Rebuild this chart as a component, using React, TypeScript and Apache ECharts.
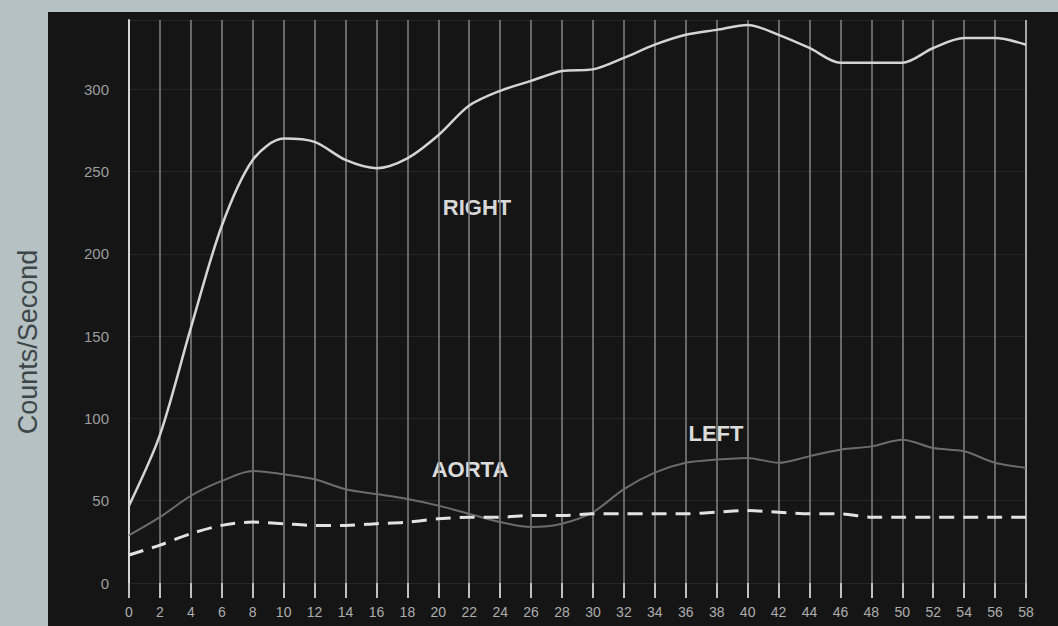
import React, { useEffect, useRef } from "react";
import * as echarts from "echarts";

const timeSeconds = [0, 2, 4, 6, 8, 10, 12, 14, 16, 18, 20, 22, 24, 26, 28, 30, 32, 34, 36, 38, 40, 42, 44, 46, 48, 50, 52, 54, 56, 58];
const rightKidney = [47, 90, 155, 217, 257, 270, 268, 257, 252, 258, 272, 290, 299, 305, 311, 312, 319, 327, 333, 336, 339, 333, 325, 316, 316, 316, 325, 331, 331, 327];
const leftKidney = [29, 40, 53, 62, 68, 66, 63, 57, 54, 51, 47, 42, 37, 34, 36, 43, 57, 67, 73, 75, 76, 73, 77, 81, 83, 87, 82, 80, 73, 70];
const aorta = [17, 23, 30, 35, 37, 36, 35, 35, 36, 37, 39, 40, 40, 41, 41, 42, 42, 42, 42, 43, 44, 43, 42, 42, 40, 40, 40, 40, 40, 40];
const yTicks = [0, 50, 100, 150, 200, 250, 300];

const FONT = '"Liberation Sans", Arial, sans-serif';

export default function App() {
  const ref = useRef<HTMLDivElement>(null);
  useEffect(() => {
    const chart = echarts.init(ref.current!, undefined, { renderer: "svg" });
    const pairs = (ys: number[]) => timeSeconds.map((x, i) => [x, ys[i]]);
    const gridColors = timeSeconds.map((_, i) => (i === 0 || i === timeSeconds.length - 1 ? "#d6d6d6" : "#858585"));
    chart.setOption({
      animation: false,
      backgroundColor: "transparent",
      grid: { left: 129, right: 32, top: 20, bottom: 43, containLabel: false, outerBoundsMode: "none" },
      xAxis: {
        type: "value",
        min: 0,
        max: 58,
        interval: 2,
        axisLine: { show: false },
        axisTick: { show: true, length: 15, lineStyle: { color: "#c0c0c0", width: 2 } },
        axisLabel: { color: "#adadad", fontSize: 14, fontFamily: FONT, margin: 22 },
        splitLine: { show: true, lineStyle: { color: gridColors, width: 1.5 } },
      },
      yAxis: {
        type: "value",
        min: 0,
        max: 342,
        interval: 50,
        axisLine: { show: true, lineStyle: { color: "#d6d6d6", width: 2 } },
        axisTick: { show: false },
        axisLabel: {
          color: "#9d9d9d",
          fontSize: 15,
          fontFamily: FONT,
          margin: 20,
          formatter: (v: number) => (yTicks.includes(v) ? String(v) : ""),
        },
        splitLine: { show: true, lineStyle: { color: "#262626", width: 1 } },
      },
      series: [
        {
          name: "Right",
          type: "line",
          data: pairs(rightKidney),
          smooth: 0.3,
          symbol: "none",
          lineStyle: { color: "#d4d4d4", width: 2.5 },
          z: 5,
        },
        {
          name: "Left",
          type: "line",
          data: pairs(leftKidney),
          smooth: 0.3,
          symbol: "none",
          lineStyle: { color: "#6c6c6c", width: 2 },
          z: 4,
        },
        {
          name: "Aorta",
          type: "line",
          data: pairs(aorta),
          smooth: 0.3,
          symbol: "none",
          lineStyle: { color: "#e2e2e2", width: 3, type: [15, 9] },
          z: 6,
        },
      ],
      graphic: [
        { type: "text", x: 28, y: 342, rotation: Math.PI / 2, style: { text: "Counts/Second", fill: "#3d4749", font: `27px ${FONT}`, textAlign: "center", textVerticalAlign: "middle" } },
        { type: "text", x: 477, y: 207, style: { text: "RIGHT", fill: "#d8d8d8", font: `bold 22px ${FONT}`, textAlign: "center", textVerticalAlign: "middle" } },
        { type: "text", x: 470, y: 469, style: { text: "AORTA", fill: "#dcdcdc", font: `bold 22px ${FONT}`, textAlign: "center", textVerticalAlign: "middle" } },
        { type: "text", x: 716, y: 433, style: { text: "LEFT", fill: "#dcdcdc", font: `bold 22px ${FONT}`, textAlign: "center", textVerticalAlign: "middle" } },
      ],
    });
    return () => chart.dispose();
  }, []);
  return (
    <div style={{ position: "fixed", left: 0, top: 0, width: 1058, height: 626, background: "#b5c1c3", overflow: "hidden" }}>
      <div style={{ position: "absolute", left: 48, top: 12, right: 0, bottom: 0, background: "#151515" }} />
      <div ref={ref} style={{ position: "absolute", left: 0, top: 0, width: 1058, height: 626 }} />
    </div>
  );
}
